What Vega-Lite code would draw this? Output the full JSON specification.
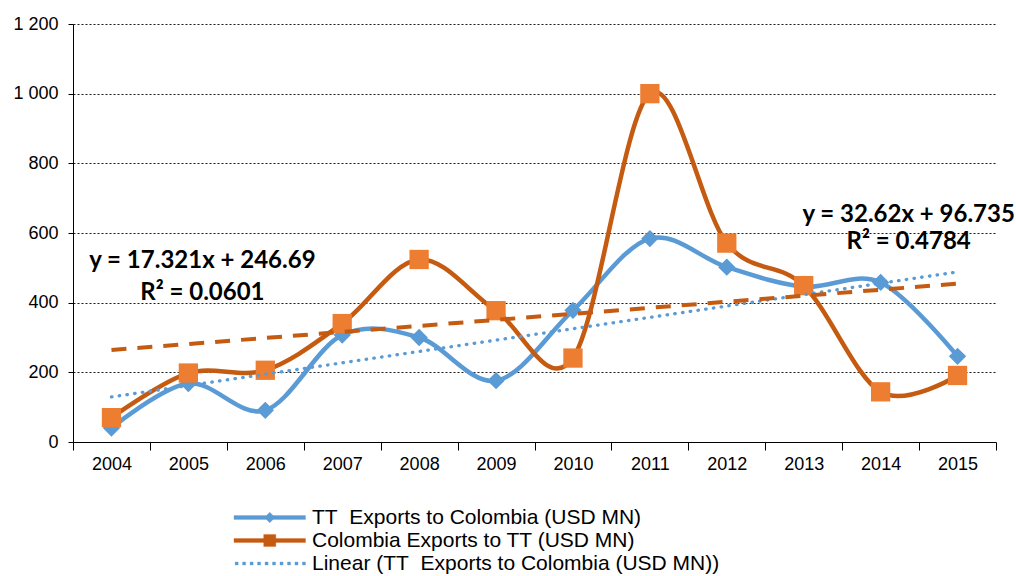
{
  "$schema": "https://vega.github.io/schema/vega-lite/v6.json",
  "width": 923,
  "height": 418,
  "autosize": {"type": "none"},
  "padding": {"left": 73, "top": 24, "right": 20, "bottom": 134},
  "background": "white",
  "config": {
    "view": {"stroke": null},
    "font": "Liberation Sans"
  },
  "data": {
    "values": [
      {"year": 2004, "series": "TT\u00a0 Exports to Colombia (USD MN)", "value": 40},
      {"year": 2005, "series": "TT\u00a0 Exports to Colombia (USD MN)", "value": 168},
      {"year": 2006, "series": "TT\u00a0 Exports to Colombia (USD MN)", "value": 91},
      {"year": 2007, "series": "TT\u00a0 Exports to Colombia (USD MN)", "value": 307},
      {"year": 2008, "series": "TT\u00a0 Exports to Colombia (USD MN)", "value": 300},
      {"year": 2009, "series": "TT\u00a0 Exports to Colombia (USD MN)", "value": 176},
      {"year": 2010, "series": "TT\u00a0 Exports to Colombia (USD MN)", "value": 378},
      {"year": 2011, "series": "TT\u00a0 Exports to Colombia (USD MN)", "value": 584},
      {"year": 2012, "series": "TT\u00a0 Exports to Colombia (USD MN)", "value": 502},
      {"year": 2013, "series": "TT\u00a0 Exports to Colombia (USD MN)", "value": 446},
      {"year": 2014, "series": "TT\u00a0 Exports to Colombia (USD MN)", "value": 458},
      {"year": 2015, "series": "TT\u00a0 Exports to Colombia (USD MN)", "value": 246},
      {"year": 2004, "series": "Colombia Exports to TT (USD MN)", "value": 70},
      {"year": 2005, "series": "Colombia Exports to TT (USD MN)", "value": 198},
      {"year": 2006, "series": "Colombia Exports to TT (USD MN)", "value": 206},
      {"year": 2007, "series": "Colombia Exports to TT (USD MN)", "value": 340},
      {"year": 2008, "series": "Colombia Exports to TT (USD MN)", "value": 524},
      {"year": 2009, "series": "Colombia Exports to TT (USD MN)", "value": 377},
      {"year": 2010, "series": "Colombia Exports to TT (USD MN)", "value": 241},
      {"year": 2011, "series": "Colombia Exports to TT (USD MN)", "value": 1000},
      {"year": 2012, "series": "Colombia Exports to TT (USD MN)", "value": 571},
      {"year": 2013, "series": "Colombia Exports to TT (USD MN)", "value": 449},
      {"year": 2014, "series": "Colombia Exports to TT (USD MN)", "value": 144},
      {"year": 2015, "series": "Colombia Exports to TT (USD MN)", "value": 191},
      {"year": 2004, "series": "Linear (TT\u00a0 Exports to Colombia (USD MN))", "value": 129.4},
      {"year": 2015, "series": "Linear (TT\u00a0 Exports to Colombia (USD MN))", "value": 488.2},
      {"year": 2004, "series": "Linear (Colombia Exports to TT (USD MN))", "value": 264.0},
      {"year": 2015, "series": "Linear (Colombia Exports to TT (USD MN))", "value": 454.5}
    ]
  },
  "encoding": {
    "x": {
      "field": "year", "type": "ordinal",
      "scale": {"type": "band", "paddingInner": 0, "paddingOuter": 0},
      "axis": {
        "title": null, "labelAngle": 0, "tickBand": "extent",
        "labelFont": "Liberation Sans", "labelFontSize": 18, "labelColor": "#000",
        "labelPadding": 5, "tickSize": 8, "tickColor": "#000", "domainColor": "#000",
        "grid": false
      }
    },
    "y": {
      "field": "value", "type": "quantitative",
      "scale": {"domain": [0, 1200], "nice": false},
      "axis": {
        "title": null, "values": [0, 200, 400, 600, 800, 1000, 1200],
        "labelExpr": "replace(format(datum.value, ','), ',', ' ')",
        "labelFont": "Liberation Sans", "labelFontSize": 18, "labelColor": "#000",
        "labelPadding": 10, "tickSize": 5, "tickColor": "#000", "domainColor": "#000",
        "grid": true, "gridColor": "#1a1a1a", "gridDash": [2, 2], "gridWidth": 1
      }
    }
  },
  "layer": [
    {
      "transform": [{"filter": "datum.series === 'TT\u00a0 Exports to Colombia (USD MN)'"}],
      "mark": {"type": "line", "interpolate": "cardinal", "strokeWidth": 4.5},
      "encoding": {
        "color": {
          "field": "series", "type": "nominal",
          "scale": {
            "domain": ["TT\u00a0 Exports to Colombia (USD MN)", "Colombia Exports to TT (USD MN)", "Linear (TT\u00a0 Exports to Colombia (USD MN))"],
            "range": ["#5B9BD5", "#C55A11", "#5B9BD5"]
          },
          "legend": {
            "title": null, "orient": "none", "legendX": 210, "legendY": 482,
            "direction": "vertical",
            "labelFont": "Liberation Sans", "labelFontSize": 21, "labelColor": "#000",
            "labelLimit": 0,
            "labelOffset": 6, "symbolSize": 484, "rowPadding": 1, "padding": 0,
            "encode": {
              "symbols": {
                "update": {
                  "shape": {"signal": "datum.index === 0 ? 'M-5.5,-0.18H1V0.18H-5.5Z M-2.25,-0.48L-1.77,0L-2.25,0.48L-2.73,0Z' : datum.index === 1 ? 'M-5.5,-0.18H1V0.18H-5.5Z M-2.8,-0.55H-1.7V0.55H-2.8Z' : 'M-5.4,-0.14h0.28v0.28h-0.28Z M-4.72,-0.14h0.28v0.28h-0.28Z M-4.04,-0.14h0.28v0.28h-0.28Z M-3.36,-0.14h0.28v0.28h-0.28Z M-2.68,-0.14h0.28v0.28h-0.28Z M-2.0,-0.14h0.28v0.28h-0.28Z M-1.32,-0.14h0.28v0.28h-0.28Z M-0.64,-0.14h0.28v0.28h-0.28Z M0.04,-0.14h0.28v0.28h-0.28Z M0.72,-0.14h0.28v0.28h-0.28Z'"},
                  "fill": {"signal": "datum.index === 1 ? '#C55A11' : '#5B9BD5'"},
                  "stroke": {"signal": "datum.index === 1 ? '#C55A11' : '#5B9BD5'"},
                  "strokeWidth": {"value": 0.3},
                  "strokeDash": {"value": []},
                  "opacity": {"value": 1},
                  "fillOpacity": {"value": 1}
                }
              }
            }
          }
        }
      }
    },
    {
      "transform": [{"filter": "datum.series === 'TT\u00a0 Exports to Colombia (USD MN)'"}],
      "mark": {"type": "point", "shape": "diamond", "filled": true, "size": 300, "color": "#5B9BD5", "opacity": 1}
    },
    {
      "transform": [{"filter": "datum.series === 'Colombia Exports to TT (USD MN)'"}],
      "mark": {"type": "line", "interpolate": "cardinal", "strokeWidth": 4.5},
      "encoding": {
        "color": {"field": "series", "type": "nominal"}
      }
    },
    {
      "transform": [{"filter": "datum.series === 'Colombia Exports to TT (USD MN)'"}],
      "mark": {"type": "point", "shape": "square", "filled": true, "size": 372, "color": "#ED7D31", "opacity": 1}
    },
    {
      "transform": [{"filter": "datum.series === 'Linear (TT\u00a0 Exports to Colombia (USD MN))'"}],
      "mark": {"type": "line", "strokeWidth": 3.3, "strokeDash": [0.5, 7.3], "strokeCap": "round"},
      "encoding": {
        "color": {"field": "series", "type": "nominal"}
      }
    },
    {
      "transform": [{"filter": "datum.series === 'Linear (Colombia Exports to TT (USD MN))'"}],
      "mark": {"type": "line", "strokeWidth": 4, "strokeDash": [15, 11], "color": "#C55A11"}
    },
    {
      "data": {"values": [
        {"year": 2005, "value": 498.7, "label": "y = 17.321x + 246.69"},
        {"year": 2005, "value": 406.8, "label": "R² = 0.0601"}
      ]},
      "mark": {"type": "text", "font": "Lato", "fontWeight": "bold", "fontSize": 24, "color": "#000", "align": "center", "baseline": "alphabetic", "dx": 14},
      "encoding": {"text": {"field": "label"}}
    },
    {
      "data": {"values": [
        {"year": 2014, "value": 631.6, "label": "y = 32.62x + 96.735"},
        {"year": 2014, "value": 555.2, "label": "R² = 0.4784"}
      ]},
      "mark": {"type": "text", "font": "Lato", "fontWeight": "bold", "fontSize": 24, "color": "#000", "align": "center", "baseline": "alphabetic", "dx": 28},
      "encoding": {"text": {"field": "label"}}
    }
  ]
}
